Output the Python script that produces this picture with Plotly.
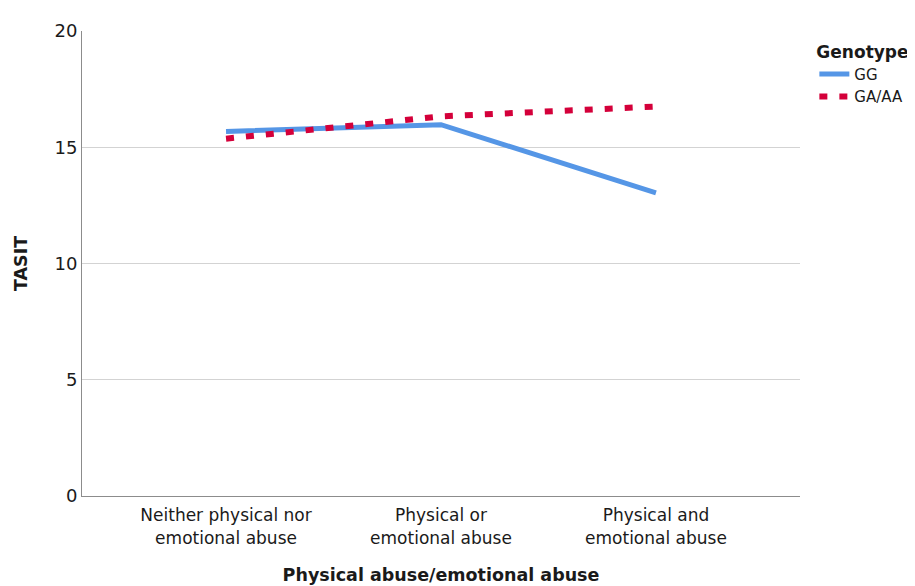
import plotly.graph_objects as go

categories = ["Neither physical nor<br>emotional abuse", "Physical or<br>emotional abuse", "Physical and<br>emotional abuse"]
gg_values = [15.68, 15.97, 13.04]
gaaa_values = [15.37, 16.33, 16.75]
y_ticks = [0, 5, 10, 15, 20]
grid_ticks = [5, 10, 15]

font = "DejaVu Sans"
fig = go.Figure()
# helper axis that only draws horizontal gridlines (no line at the top value)
fig.add_trace(go.Scatter(x=[None], y=[None], yaxis="y2", showlegend=False, hoverinfo="skip"))
fig.add_trace(go.Scatter(x=[0, 1, 2], y=gg_values, mode="lines", name="GG",
                         line=dict(color="#5596e6", width=5)))
fig.add_trace(go.Scatter(x=[0, 1, 2], y=gaaa_values, mode="lines", name="GA/AA",
                         line=dict(color="#d4003a", width=6, dash="8px,12px")))

fig.update_layout(
    width=915, height=586,
    margin=dict(l=74, r=120, t=16, b=98),
    paper_bgcolor="white", plot_bgcolor="white",
    font=dict(family=font, color="#1a1a1a"),
    xaxis=dict(range=[-0.67, 2.67], tickvals=[0, 1, 2], ticktext=categories,
               showgrid=False, showline=True, linecolor="#8c8c8c", linewidth=1,
               ticks="outside", ticklen=4, tickcolor="rgba(0,0,0,0)",
               tickfont=dict(size=17), zeroline=False,
               title=dict(text="<b>Physical abuse/emotional abuse</b>", font=dict(size=17.5), standoff=22)),
    yaxis=dict(range=[0, 20], tickvals=y_ticks, showgrid=False,
               showline=True, linecolor="#8c8c8c", linewidth=1, ticks="",
               tickfont=dict(size=18), zeroline=False,
               title=dict(text="<b>TASIT</b>", font=dict(size=17.5), standoff=22)),
    yaxis2=dict(range=[0, 20], tickvals=grid_ticks, showgrid=True, gridcolor="#d3d3d3",
                gridwidth=1, showticklabels=False, overlaying="y", side="left", zeroline=False),
    legend=dict(x=1.02, y=0.99, xanchor="left", yanchor="top",
                title=dict(text="<b>Genotype</b>", font=dict(size=17)),
                font=dict(size=15), tracegroupgap=0, itemwidth=30),
    showlegend=True,
)
fig.write_html("out.html")
